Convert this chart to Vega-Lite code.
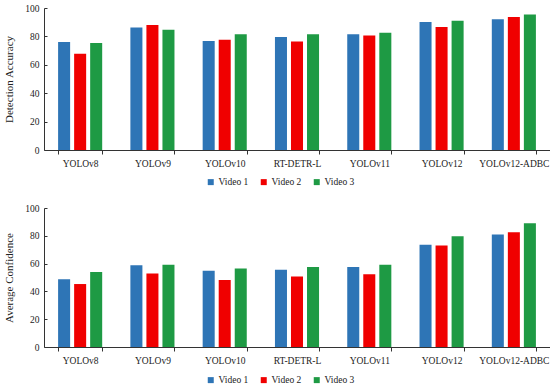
{
  "$schema": "https://vega.github.io/schema/vega-lite/v6.json",
  "autosize": {"type": "pad"},
  "padding": {"left": 3, "top": 3, "right": 0, "bottom": 2},
  "background": "white",
  "bounds": "flush",
  "spacing": 58,
  "config": {
    "view": {"stroke": null},
    "font": "Liberation Serif",
    "axis": {"labelFont": "Liberation Serif", "titleFont": "Liberation Serif", "labelColor": "#222", "titleColor": "#222", "domainColor": "#333", "tickColor": "#333", "grid": false, "labelFontSize": 9.5, "titleFontSize": 11, "titleFontWeight": "normal"},
    "legend": {"labelFont": "Liberation Serif", "labelFontSize": 9.5, "labelColor": "#222"}
  },
  "datasets": {
    "acc": [
      {"model": "YOLOv8", "video": "Video 1", "value": 76},
      {"model": "YOLOv8", "video": "Video 2", "value": 67.7},
      {"model": "YOLOv8", "video": "Video 3", "value": 75.3},
      {"model": "YOLOv9", "video": "Video 1", "value": 86.3},
      {"model": "YOLOv9", "video": "Video 2", "value": 88},
      {"model": "YOLOv9", "video": "Video 3", "value": 84.7},
      {"model": "YOLOv10", "video": "Video 1", "value": 76.7},
      {"model": "YOLOv10", "video": "Video 2", "value": 77.6},
      {"model": "YOLOv10", "video": "Video 3", "value": 81.6},
      {"model": "RT-DETR-L", "video": "Video 1", "value": 79.5},
      {"model": "RT-DETR-L", "video": "Video 2", "value": 76.4},
      {"model": "RT-DETR-L", "video": "Video 3", "value": 81.6},
      {"model": "YOLOv11", "video": "Video 1", "value": 81.6},
      {"model": "YOLOv11", "video": "Video 2", "value": 80.7},
      {"model": "YOLOv11", "video": "Video 3", "value": 82.6},
      {"model": "YOLOv12", "video": "Video 1", "value": 90.1},
      {"model": "YOLOv12", "video": "Video 2", "value": 86.6},
      {"model": "YOLOv12", "video": "Video 3", "value": 91},
      {"model": "YOLOv12-ADBC", "video": "Video 1", "value": 92},
      {"model": "YOLOv12-ADBC", "video": "Video 2", "value": 93.6},
      {"model": "YOLOv12-ADBC", "video": "Video 3", "value": 95.5}
    ],
    "conf": [
      {"model": "YOLOv8", "video": "Video 1", "value": 48.7},
      {"model": "YOLOv8", "video": "Video 2", "value": 45.3},
      {"model": "YOLOv8", "video": "Video 3", "value": 54},
      {"model": "YOLOv9", "video": "Video 1", "value": 58.8},
      {"model": "YOLOv9", "video": "Video 2", "value": 52.8},
      {"model": "YOLOv9", "video": "Video 3", "value": 59.2},
      {"model": "YOLOv10", "video": "Video 1", "value": 54.9},
      {"model": "YOLOv10", "video": "Video 2", "value": 48.2},
      {"model": "YOLOv10", "video": "Video 3", "value": 56.4},
      {"model": "RT-DETR-L", "video": "Video 1", "value": 55.6},
      {"model": "RT-DETR-L", "video": "Video 2", "value": 50.8},
      {"model": "RT-DETR-L", "video": "Video 3", "value": 57.6},
      {"model": "YOLOv11", "video": "Video 1", "value": 57.6},
      {"model": "YOLOv11", "video": "Video 2", "value": 52.3},
      {"model": "YOLOv11", "video": "Video 3", "value": 59.2},
      {"model": "YOLOv12", "video": "Video 1", "value": 73.6},
      {"model": "YOLOv12", "video": "Video 2", "value": 73.1},
      {"model": "YOLOv12", "video": "Video 3", "value": 79.6},
      {"model": "YOLOv12-ADBC", "video": "Video 1", "value": 81},
      {"model": "YOLOv12-ADBC", "video": "Video 2", "value": 82.5},
      {"model": "YOLOv12-ADBC", "video": "Video 3", "value": 89}
    ]
  },
  "resolve": {"legend": {"color": "independent"}},
  "vconcat": [
    {
      "width": 506,
      "height": 142,
      "data": {"name": "acc"},
      "mark": {"type": "bar"},
      "encoding": {
        "x": {"field": "model", "type": "nominal", "sort": null, "title": null,
              "scale": {"paddingInner": 0.39, "paddingOuter": 0.195},
              "axis": {"labelAngle": 0, "tickBand": "extent", "tickSize": 4, "labelPadding": 4}},
        "xOffset": {"field": "video", "type": "nominal", "scale": {"paddingInner": 0.25, "paddingOuter": 0}},
        "y": {"field": "value", "type": "quantitative", "title": "Detection Accuracy",
              "scale": {"domain": [0, 100]},
              "axis": {"values": [0, 20, 40, 60, 80, 100], "tickSize": -3, "labelPadding": 8, "titlePadding": 10}},
        "color": {"field": "video", "type": "nominal", "title": null,
                  "scale": {"domain": ["Video 1", "Video 2", "Video 3"], "range": ["#2e75b6", "#f00000", "#1e9a44"]},
                  "legend": {"orient": "none", "direction": "horizontal", "legendX": 162, "legendY": 169, "symbolType": "square", "symbolSize": 36, "labelOffset": 3, "columnPadding": 10}}
      }
    },
    {
      "width": 506,
      "height": 139,
      "data": {"name": "conf"},
      "mark": {"type": "bar"},
      "encoding": {
        "x": {"field": "model", "type": "nominal", "sort": null, "title": null,
              "scale": {"paddingInner": 0.39, "paddingOuter": 0.195},
              "axis": {"labelAngle": 0, "tickBand": "extent", "tickSize": 4, "labelPadding": 4}},
        "xOffset": {"field": "video", "type": "nominal", "scale": {"paddingInner": 0.25, "paddingOuter": 0}},
        "y": {"field": "value", "type": "quantitative", "title": "Average Confidence",
              "scale": {"domain": [0, 100]},
              "axis": {"values": [0, 20, 40, 60, 80, 100], "tickSize": -3, "labelPadding": 8, "titlePadding": 10}},
        "color": {"field": "video", "type": "nominal", "title": null,
                  "scale": {"domain": ["Video 1", "Video 2", "Video 3"], "range": ["#2e75b6", "#f00000", "#1e9a44"]},
                  "legend": {"orient": "none", "direction": "horizontal", "legendX": 162, "legendY": 167, "symbolType": "square", "symbolSize": 36, "labelOffset": 3, "columnPadding": 10}}
      }
    }
  ]
}
